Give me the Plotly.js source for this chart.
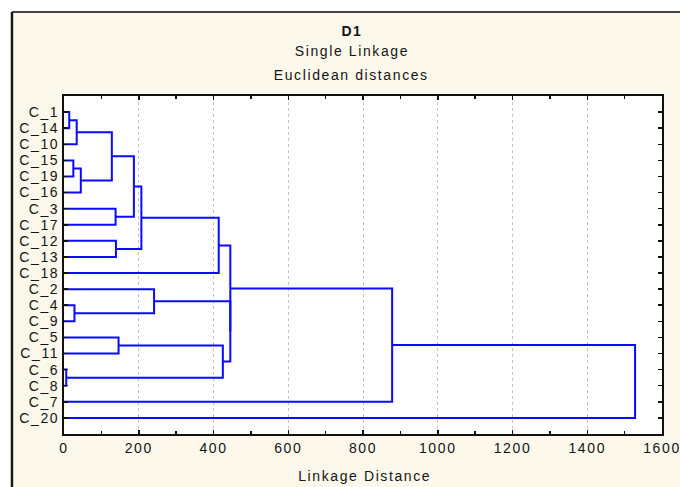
<!DOCTYPE html>
<html>
<head>
<meta charset="utf-8">
<script src="https://cdn.plot.ly/plotly-3.0.1.min.js"></script>
<style>
  html, body { margin: 0; padding: 0; background: #ffffff; }
  #chart { width: 680px; height: 487px; }
  #chart .main-svg text { letter-spacing: 1.6px; }
</style>
</head>
<body>
<div id="chart"></div>
<script>
// Leaf order (top to bottom) as drawn in the dendrogram
const leaves = ['C_1','C_14','C_10','C_15','C_19','C_16','C_3','C_17','C_12','C_13',
                'C_18','C_2','C_4','C_9','C_5','C_11','C_6','C_8','C_7','C_20'];

// Merge steps: left member, right member, linkage distance
const mergeIds   = ['M1','M2','M3','M4','M5','M6','M7','M8','M9','M10',
                    'M11','M12','M13','M14','M15','M16','M17','M18','M19'];
const mergeLeft  = ['C_1','M1','C_15','M3','M2','C_3','M5','C_12','M7','M9',
                    'C_4','C_2','C_5','C_6','M13','M12','M10','M17','M18'];
const mergeRight = ['C_14','C_10','C_19','C_16','M4','C_17','M6','C_13','M8','C_18',
                    'C_9','M11','C_11','C_8','M14','M15','M16','C_7','C_20'];
const mergeDist  = [14, 34, 25, 45, 128, 138, 187, 139, 207, 414,
                    28, 241, 146, 6, 425, 445, 445, 878, 1528];

const xTickVals = [0, 200, 400, 600, 800, 1000, 1200, 1400, 1600];

// Build dendrogram path from the data
const pos = {}, height = {};
leaves.forEach((name, i) => { pos[name] = i + 1; height[name] = 0; });
const xs = [], ys = [];
mergeIds.forEach((id, k) => {
  const a = mergeLeft[k], b = mergeRight[k], d = mergeDist[k];
  xs.push(height[a], d, d, height[b], null);
  ys.push(pos[a], pos[a], pos[b], pos[b], null);
  pos[id] = (pos[a] + pos[b]) / 2;
  height[id] = d;
});

const FONT = '"Liberation Sans", Arial, sans-serif';
const TXT = '#141414';
const CREAM = '#fdf8ec';

const trace = {
  type: 'scatter', mode: 'lines', x: xs, y: ys,
  line: { color: '#0a0aff', width: 2 }, hoverinfo: 'skip', showlegend: false
};

const layout = {
  width: 680, height: 487,
  margin: { l: 64, r: 18, t: 96, b: 53 },
  paper_bgcolor: CREAM,
  plot_bgcolor: '#ffffff',
  font: { family: FONT, size: 14, color: TXT },
  showlegend: false,
  xaxis: {
    range: [0, 1600], tickvals: xTickVals, ticktext: xTickVals.map(String),
    ticks: 'inside', ticklen: 4, tickwidth: 1.5, tickcolor: '#111',
    minor: { dtick: 100, tick0: 0, ticks: 'inside', ticklen: 3, tickcolor: '#111', showgrid: false },
    showline: true, linecolor: '#111', linewidth: 2, mirror: 'ticks',
    showgrid: true, gridcolor: '#c4c4c4', griddash: 'dot', gridwidth: 1,
    zeroline: false, tickfont: { family: FONT, size: 14, color: TXT },
    fixedrange: true
  },
  yaxis: {
    range: [21, 0], tickvals: leaves.map((_, i) => i + 1), ticktext: leaves,
    ticks: 'inside', ticklen: 4, tickwidth: 1.5, tickcolor: '#111',
    showline: true, linecolor: '#111', linewidth: 2, mirror: 'ticks',
    showgrid: false, zeroline: false,
    tickfont: { family: FONT, size: 14, color: TXT },
    fixedrange: true
  },
  shapes: [
    { type: 'rect', xref: 'paper', yref: 'paper', x0: -0.3, x1: 1.3, y0: 1.2485, y1: 1.5,
      fillcolor: '#ffffff', line: { width: 0 }, layer: 'below' },
    { type: 'rect', xref: 'paper', yref: 'paper', x0: -0.3, x1: -0.0870, y0: -0.3, y1: 1.5,
      fillcolor: '#ffffff', line: { width: 0 }, layer: 'below' },
    { type: 'line', xref: 'paper', yref: 'paper', x0: -0.0870, x1: 1.3, y0: 1.2485, y1: 1.2485,
      line: { color: '#444', width: 2 } },
    { type: 'line', xref: 'paper', yref: 'paper', x0: -0.0870, x1: -0.0870, y0: -0.3, y1: 1.2485,
      line: { color: '#1a1a1a', width: 2.5 } }
  ],
  annotations: [
    { text: '<b>D1</b>', xref: 'paper', yref: 'paper', x: 0.4814, y: 1.192,
      xanchor: 'center', yanchor: 'middle', showarrow: false,
      font: { family: FONT, size: 14, color: TXT } },
    { text: 'Single Linkage', xref: 'paper', yref: 'paper', x: 0.4814, y: 1.132,
      xanchor: 'center', yanchor: 'middle', showarrow: false,
      font: { family: FONT, size: 14, color: TXT } },
    { text: 'Euclidean distances', xref: 'paper', yref: 'paper', x: 0.4814, y: 1.062,
      xanchor: 'center', yanchor: 'middle', showarrow: false,
      font: { family: FONT, size: 14, color: TXT } },
    { text: 'Linkage Distance', xref: 'paper', yref: 'paper', x: 0.503, y: -0.124,
      xanchor: 'center', yanchor: 'middle', showarrow: false,
      font: { family: FONT, size: 14, color: TXT } }
  ]
};

Plotly.newPlot('chart', [trace], layout, { staticPlot: true, displayModeBar: false });
</script>
</body>
</html>
